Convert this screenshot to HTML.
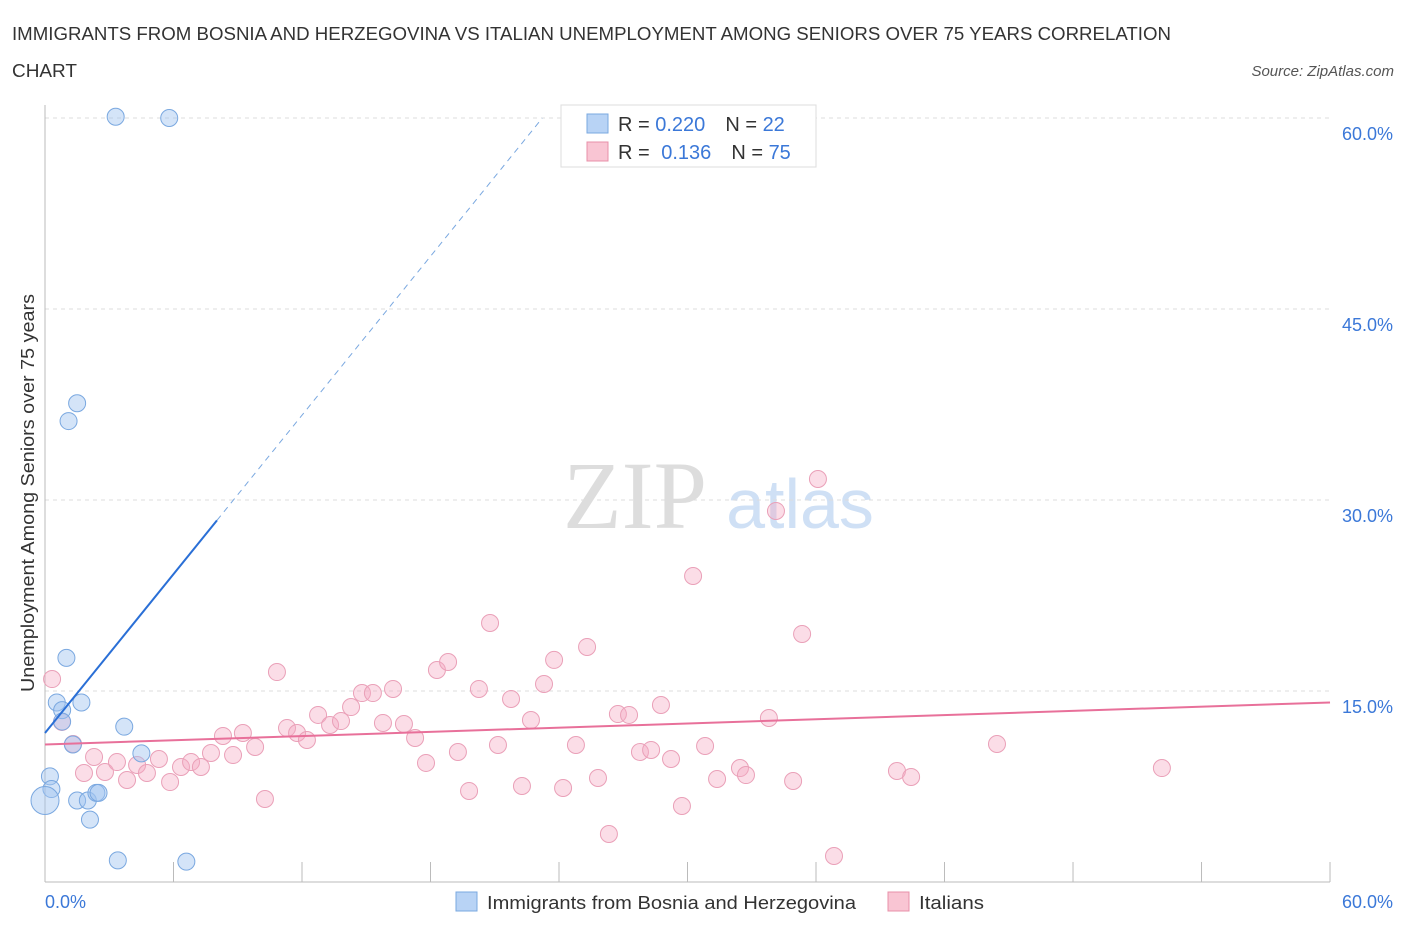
<!DOCTYPE html>
<html><head><meta charset="utf-8"><style>
body{margin:0;background:#fff;font-family:"Liberation Sans",sans-serif;}
</style></head><body>
<svg id="c" width="1406" height="930" xmlns="http://www.w3.org/2000/svg" font-family="Liberation Sans, sans-serif">
<text x="12" y="40" font-size="18" fill="#333" textLength="1159" lengthAdjust="spacingAndGlyphs">IMMIGRANTS FROM BOSNIA AND HERZEGOVINA VS ITALIAN UNEMPLOYMENT AMONG SENIORS OVER 75 YEARS CORRELATION</text>
<text x="12" y="77" font-size="18" fill="#333" textLength="65" lengthAdjust="spacingAndGlyphs">CHART</text>
<text x="1394" y="76" font-size="15" fill="#555" font-style="italic" text-anchor="end">Source: ZipAtlas.com</text>
<text x="635" y="528" font-size="96" fill="#ddd" font-family="Liberation Serif, serif" text-anchor="middle">ZIP</text>
<text x="800" y="528" font-size="70" fill="#cfe0f5" text-anchor="middle">atlas</text>
<g id="grid"></g>
<g id="axes"></g>
<g id="marks"></g>
<text transform="translate(34,493) rotate(-90)" font-size="18" fill="#333" text-anchor="middle" textLength="398" lengthAdjust="spacingAndGlyphs">Unemployment Among Seniors over 75 years</text>
<g>
<rect x="561" y="105" width="255" height="62" fill="#fff" stroke="#ddd"/>
<rect x="587" y="114" width="21" height="19" fill="#b8d3f5" stroke="#7aa8e0"/>
<rect x="587" y="142" width="21" height="19" fill="#f9c5d3" stroke="#e890a8"/>
<text x="618" y="131" font-size="20" fill="#333">R = <tspan fill="#3b78d8">0.220</tspan><tspan dx="20">N = </tspan><tspan fill="#3b78d8">22</tspan></text>
<text x="618" y="159" font-size="20" fill="#333">R = <tspan dx="6" fill="#3b78d8">0.136</tspan><tspan dx="20">N = </tspan><tspan fill="#3b78d8">75</tspan></text>
</g>
<g>
<rect x="456" y="892" width="21" height="19" fill="#b8d3f5" stroke="#7aa8e0"/>
<text x="487" y="909" font-size="18" fill="#333" textLength="369" lengthAdjust="spacingAndGlyphs">Immigrants from Bosnia and Herzegovina</text>
<rect x="888" y="892" width="21" height="19" fill="#f9c5d3" stroke="#e890a8"/>
<text x="919" y="909" font-size="18" fill="#333" textLength="65" lengthAdjust="spacingAndGlyphs">Italians</text>
</g>
</svg>
<script>
const yTicks=[15,30,45,60];
const yTickLabels=["15.0%","30.0%","45.0%","60.0%"];
const xTicks=[0,6,12,18,24,30,36,42,48,54,60];
const blueX=[3.3,5.8,1.5,1.1,1.0,0.55,1.7,0.8,0.8,3.7,1.3,4.5,0.23,0.3,0,1.5,2.0,2.4,2.1,3.4,6.6,2.5];
const blueY=[60.1,60,37.6,36.2,17.6,14.1,14.1,13.5,12.6,12.2,10.8,10.1,8.3,7.3,6.4,6.4,6.4,7.0,4.9,1.7,1.6,7.0];
const pinkPx=[[52,679],[62,722],[73,744],[84,773],[94,757],[105,772],[117,762],[127,780],[137,765],[147,773],[159,759],[170,782],[181,767],[191,762],[201,767],[211,753],[223,736],[233,755],[243,733],[255,747],[265,799],[277,672],[287,728],[297,733],[307,740],[318,715],[330,725],[341,721],[351,707],[362,693],[373,693],[383,723],[393,689],[404,724],[415,738],[426,763],[437,670],[448,662],[458,752],[469,791],[479,689],[490,623],[498,745],[511,699],[522,786],[531,720],[544,684],[554,660],[563,788],[576,745],[587,647],[598,778],[609,834],[618,714],[629,715],[640,752],[651,750],[661,705],[671,759],[682,806],[693,576],[705,746],[717,779],[740,768],[746,775],[769,718],[776,511],[793,781],[802,634],[818,479],[834,856],[897,771],[911,777],[997,744],[1162,768]];
const pinkX=pinkPx.map(p=>+((p[0]-45)/21.417).toFixed(2));
const pinkY=pinkPx.map(p=>+((882-p[1])/12.733).toFixed(2));
const blueLine=[11.7,2.08];
const pinkLine=[10.8,0.055];
const X=v=>45+v*21.417, Y=v=>882-v*12.733;
const NS="http://www.w3.org/2000/svg";
function mk(tag,attrs,parent){const e=document.createElementNS(NS,tag);for(const k in attrs)e.setAttribute(k,attrs[k]);document.getElementById(parent).appendChild(e);return e;}
yTicks.forEach((t,i)=>{
 const g=mk('line',{x1:45,x2:1330,y1:Y(t),y2:Y(t),stroke:'#ddd','stroke-dasharray':'4,4'},'grid');
 
 
 const l=mk('text',{x:1393,y:Y(t)+22,'font-size':18,fill:'#3b78d8','text-anchor':'end'},'axes');
 l.textContent=yTickLabels[i];
 
 
});
const ax=mk('line',{x1:45,x2:1330,y1:882,y2:882,stroke:'#bbb'},'axes');


const ay=mk('line',{x1:45,x2:45,y1:105,y2:882,stroke:'#bbb'},'axes');


xTicks.forEach(t=>{const k=mk('line',{x1:X(t),x2:X(t),y1:862,y2:882,stroke:'#bbb'},'axes');
 
 });
[["0.0%",45,"start"],["60.0%",1393,"end"]].forEach(a=>{const l=mk('text',{x:a[1],y:908,'font-size':18,fill:'#3b78d8','text-anchor':a[2]},'axes');l.textContent=a[0];
 
 });
pinkX.forEach((x,i)=>{const c=mk('circle',{cx:X(x),cy:Y(pinkY[i]),r:8.5,fill:'rgba(244,170,195,0.4)',stroke:'#eaa0b8'},'marks');
 
 });
blueX.forEach((x,i)=>{const c=mk('circle',{cx:X(x),cy:Y(blueY[i]),r:i==14?14:8.5,fill:'rgba(160,195,240,0.45)',stroke:'#7aa8e0'},'marks');
 
 });
const pl=mk('line',{x1:X(0),y1:Y(pinkLine[0]),x2:X(60),y2:Y(pinkLine[0]+60*pinkLine[1]),stroke:'#e8709a','stroke-width':2},'marks');


const xe=8.03, xd=(60-blueLine[0])/blueLine[1];
const bl=mk('line',{x1:X(0),y1:Y(blueLine[0]),x2:X(xe),y2:Y(blueLine[0]+xe*blueLine[1]),stroke:'#2a6fd6','stroke-width':2},'marks');


const bd=mk('line',{x1:X(xe),y1:Y(blueLine[0]+xe*blueLine[1]),x2:X(xd),y2:Y(60),stroke:'#7aa8e0','stroke-dasharray':'6,5'},'marks');


</script>
</body></html>
